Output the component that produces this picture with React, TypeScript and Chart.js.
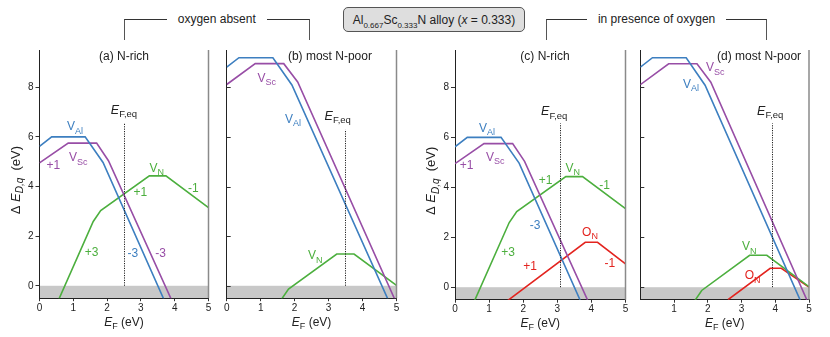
import React, { useEffect, useRef } from "react";
import { Chart, registerables } from "chart.js";

Chart.register(...registerables);

const FONT = '"Liberation Sans", Arial, Helvetica, sans-serif';
const W = 830;
const H = 337;

// ---- tick values ----
const X_TICKS = [0, 1, 2, 3, 4, 5];
const X_TICKS_D = [1, 2, 3, 4, 5];
const Y_TICKS = [0, 2, 4, 6, 8];

// ---- series (E_F in eV, formation energy in eV) ----
// N-rich
const VAL_NRICH_X = [0, 0.36, 1.35, 1.88, 3.68];
const VAL_NRICH_Y = [5.62, 6.0, 6.0, 4.97, -0.55];
const VSC_NRICH_X = [0, 0.85, 1.69, 2.04, 3.9];
const VSC_NRICH_Y = [4.95, 5.75, 5.75, 5.04, -0.55];
const VN_NRICH_X = [0.57, 1.59, 1.81, 3.25, 3.74, 5.0];
const VN_NRICH_Y = [-0.55, 2.59, 3.03, 4.43, 4.43, 3.15];
const ON_NRICH_X = [1.53, 3.82, 4.18, 5.0];
const ON_NRICH_Y = [-0.55, 1.8, 1.8, 0.93];
// most N-poor
const VAL_NPOOR_X = [0, 0.36, 1.36, 1.92, 4.75];
const VAL_NPOOR_Y = [8.81, 9.19, 9.19, 8.09, -0.55];
const VSC_NPOOR_X = [0, 0.84, 1.68, 2.09, 4.95];
const VSC_NPOOR_Y = [8.11, 8.95, 8.95, 8.21, -0.55];
const VN_NPOOR_X = [1.6, 1.82, 3.24, 3.75, 5.0];
const VN_NPOOR_Y = [-0.57, -0.13, 1.28, 1.28, 0.02];
const ON_NPOOR_X = [2.6, 3.85, 4.18, 5.0];
const ON_NPOOR_Y = [-0.5, 0.76, 0.76, 0.0];

// equilibrium Fermi level per panel (a, b, c, d)
const EF_EQ = [2.51, 3.48, 3.08, 3.91];
const EF_EQ_TOP = [6.54, 6.29, 6.56, 6.56];

// panel titles
const TITLES = ["(a) N-rich", "(b) most N-poor", "(c) N-rich", "(d) most N-poor"];
const TITLE_X = [2.5, 3.04, 2.64, 3.52];

const BLUE = "#3d7fc0";
const PURPLE = "#984ea6";
const GREEN = "#4caf3e";
const RED = "#e3241f";
const TXT = "#222";

type Lbl = { x: number; y: number; t: string; s?: string; c: string };

const LABELS_A: Lbl[] = [
  { x: 1.05, y: 6.43, t: "V", s: "Al", c: BLUE },
  { x: 1.15, y: 5.18, t: "V", s: "Sc", c: PURPLE },
  { x: 0.41, y: 4.88, t: "+1", c: PURPLE },
  { x: 3.47, y: 4.77, t: "V", s: "N", c: GREEN },
  { x: 2.98, y: 3.8, t: "+1", c: GREEN },
  { x: 4.55, y: 3.96, t: "-1", c: GREEN },
  { x: 1.54, y: 1.37, t: "+3", c: GREEN },
  { x: 2.76, y: 1.31, t: "-3", c: BLUE },
  { x: 3.58, y: 1.31, t: "-3", c: PURPLE },
];
const LABELS_B: Lbl[] = [
  { x: 1.18, y: 8.38, t: "V", s: "Sc", c: PURPLE },
  { x: 1.95, y: 6.74, t: "V", s: "Al", c: BLUE },
  { x: 2.61, y: 1.24, t: "V", s: "N", c: GREEN },
];
const LABELS_C: Lbl[] = [
  { x: 0.94, y: 6.39, t: "V", s: "Al", c: BLUE },
  { x: 1.18, y: 5.23, t: "V", s: "Sc", c: PURPLE },
  { x: 0.34, y: 4.89, t: "+1", c: PURPLE },
  { x: 3.45, y: 4.79, t: "V", s: "N", c: GREEN },
  { x: 2.66, y: 4.29, t: "+1", c: GREEN },
  { x: 4.39, y: 4.09, t: "-1", c: GREEN },
  { x: 1.56, y: 1.4, t: "+3", c: GREEN },
  { x: 2.35, y: 2.49, t: "-3", c: BLUE },
  { x: 3.96, y: 2.23, t: "O", s: "N", c: RED },
  { x: 2.2, y: 0.87, t: "+1", c: RED },
  { x: 4.54, y: 0.96, t: "-1", c: RED },
];
const LABELS_D: Lbl[] = [
  { x: 2.22, y: 8.81, t: "V", s: "Sc", c: PURPLE },
  { x: 1.5, y: 8.15, t: "V", s: "Al", c: BLUE },
  { x: 3.23, y: 1.65, t: "V", s: "N", c: GREEN },
  { x: 3.33, y: 0.48, t: "O", s: "N", c: RED },
];
const EF_LABEL_POS = [
  { x: 2.5, y: 7.1 },
  { x: 3.27, y: 6.86 },
  { x: 2.91, y: 7.05 },
  { x: 3.85, y: 7.08 },
];

type Series = { x: number[]; y: number[]; color: string };
type PanelCfg = {
  title: string;
  titleX: number;
  box: { left: number; top: number; right: number; bottom: number };
  series: Series[];
  labels: Lbl[];
  ef: number;
  efTop: number;
  efLabel: { x: number; y: number };
  xTicks: number[];
  yLabels: boolean;
};

const RICH_SERIES = (withO: boolean): Series[] => {
  const s: Series[] = [
    { x: VAL_NRICH_X, y: VAL_NRICH_Y, color: BLUE },
    { x: VSC_NRICH_X, y: VSC_NRICH_Y, color: PURPLE },
    { x: VN_NRICH_X, y: VN_NRICH_Y, color: GREEN },
  ];
  if (withO) s.push({ x: ON_NRICH_X, y: ON_NRICH_Y, color: RED });
  return s;
};
const POOR_SERIES = (withO: boolean): Series[] => {
  const s: Series[] = [
    { x: VAL_NPOOR_X, y: VAL_NPOOR_Y, color: BLUE },
    { x: VSC_NPOOR_X, y: VSC_NPOOR_Y, color: PURPLE },
    { x: VN_NPOOR_X, y: VN_NPOOR_Y, color: GREEN },
  ];
  if (withO) s.push({ x: ON_NPOOR_X, y: ON_NPOOR_Y, color: RED });
  return s;
};

const PANELS: PanelCfg[] = [
  {
    title: TITLES[0],
    titleX: TITLE_X[0],
    box: { left: 39.5, top: 50, right: 208.5, bottom: 298.2 },
    series: RICH_SERIES(false),
    labels: LABELS_A,
    ef: EF_EQ[0],
    efTop: EF_EQ_TOP[0],
    efLabel: EF_LABEL_POS[0],
    xTicks: X_TICKS,
    yLabels: true,
  },
  {
    title: TITLES[1],
    titleX: TITLE_X[1],
    box: { left: 226.7, top: 50, right: 396.5, bottom: 298.2 },
    series: POOR_SERIES(false),
    labels: LABELS_B,
    ef: EF_EQ[1],
    efTop: EF_EQ_TOP[1],
    efLabel: EF_LABEL_POS[1],
    xTicks: X_TICKS,
    yLabels: false,
  },
  {
    title: TITLES[2],
    titleX: TITLE_X[2],
    box: { left: 455, top: 50, right: 625.5, bottom: 299.7 },
    series: RICH_SERIES(true),
    labels: LABELS_C,
    ef: EF_EQ[2],
    efTop: EF_EQ_TOP[2],
    efLabel: EF_LABEL_POS[2],
    xTicks: X_TICKS,
    yLabels: true,
  },
  {
    title: TITLES[3],
    titleX: TITLE_X[3],
    box: { left: 640.3, top: 50, right: 809, bottom: 299.7 },
    series: POOR_SERIES(true),
    labels: LABELS_D,
    ef: EF_EQ[3],
    efTop: EF_EQ_TOP[3],
    efLabel: EF_LABEL_POS[3],
    xTicks: X_TICKS_D,
    yLabels: false,
  },
];

type Part = { t: string; size: number; italic?: boolean; dy?: number };

function drawRich(ctx: CanvasRenderingContext2D, parts: Part[], cx: number, cy: number, color: string) {
  ctx.save();
  ctx.fillStyle = color;
  ctx.textBaseline = "alphabetic";
  ctx.textAlign = "left";
  const fontOf = (p: Part) => `${p.italic ? "italic " : ""}${p.size}px ${FONT}`;
  let total = 0;
  const widths = parts.map((p) => {
    ctx.font = fontOf(p);
    const w = ctx.measureText(p.t).width;
    total += w;
    return w;
  });
  let x = cx - total / 2;
  const base = cy + 4.2;
  parts.forEach((p, i) => {
    ctx.font = fontOf(p);
    ctx.fillText(p.t, x, base + (p.dy || 0));
    x += widths[i];
  });
  ctx.restore();
}

function makeDeco(cfg: PanelCfg) {
  return {
    id: "panelDeco",
    beforeDraw(chart: any) {
      const { ctx, chartArea: a } = chart;
      const y = chart.scales.y;
      const y0 = y.getPixelForValue(0);
      ctx.save();
      ctx.fillStyle = "#c8c8c8";
      ctx.fillRect(a.left, y0, a.right - a.left, a.bottom - y0);
      ctx.restore();
    },
    afterDraw(chart: any) {
      const { ctx, chartArea: a } = chart;
      const xs = chart.scales.x;
      const ys = chart.scales.y;

      // right border
      ctx.save();
      ctx.strokeStyle = "#8a8a8a";
      ctx.lineWidth = 1.5;
      ctx.beginPath();
      ctx.moveTo(a.right, a.top);
      ctx.lineTo(a.right, a.bottom);
      ctx.stroke();
      ctx.restore();

      // inward ticks for panels without y labels
      if (!cfg.yLabels) {
        ctx.save();
        ctx.strokeStyle = "#333";
        ctx.lineWidth = 1;
        Y_TICKS.forEach((v) => {
          const py = Math.round(ys.getPixelForValue(v)) + 0.5;
          ctx.beginPath();
          ctx.moveTo(a.left, py);
          ctx.lineTo(a.left + 4, py);
          ctx.stroke();
        });
        ctx.restore();
      }

      // E_F,eq dotted line
      const ex = Math.round(xs.getPixelForValue(cfg.ef)) + 0.5;
      ctx.save();
      ctx.strokeStyle = "#222";
      ctx.lineWidth = 1;
      ctx.setLineDash([1.2, 1.2]);
      ctx.beginPath();
      ctx.moveTo(ex, ys.getPixelForValue(0));
      ctx.lineTo(ex, ys.getPixelForValue(cfg.efTop));
      ctx.stroke();
      ctx.restore();
      drawRich(
        ctx,
        [
          { t: "E", size: 12.5, italic: true },
          { t: "F,eq", size: 9.5, dy: 3.5 },
        ],
        xs.getPixelForValue(cfg.efLabel.x),
        ys.getPixelForValue(cfg.efLabel.y),
        TXT
      );

      // series labels
      cfg.labels.forEach((l) => {
        const parts: Part[] = [{ t: l.t, size: 12 }];
        if (l.s) parts.push({ t: l.s, size: 9, dy: 3.5 });
        drawRich(ctx, parts, xs.getPixelForValue(l.x), ys.getPixelForValue(l.y), l.c);
      });

      // panel title
      drawRich(ctx, [{ t: cfg.title, size: 12 }], xs.getPixelForValue(cfg.titleX), a.top + 6, TXT);

      // x axis title
      drawRich(
        ctx,
        [
          { t: "E", size: 12, italic: true },
          { t: "F", size: 9, dy: 3 },
          { t: " (eV)", size: 12 },
        ],
        (a.left + a.right) / 2,
        a.bottom + 23.5,
        TXT
      );

      // y axis title
      if (cfg.yLabels) {
        ctx.save();
        ctx.translate(a.left - 24, (a.top + a.bottom) / 2 + 6);
        ctx.rotate(-Math.PI / 2);
        drawRich(
          ctx,
          [
            { t: "Δ ", size: 13 },
            { t: "E", size: 13, italic: true },
            { t: "D,q", size: 10, italic: true, dy: 3.5 },
            { t: "  (eV)", size: 13 },
          ],
          0,
          0,
          TXT
        );
        ctx.restore();
      }
    },
  };
}

const YW = 30;
const XH = 20;

function Panel({ cfg }: { cfg: PanelCfg }) {
  const ref = useRef<HTMLCanvasElement>(null);
  useEffect(() => {
    const canvas = ref.current;
    if (!canvas) return;
    const tickFont = { family: FONT, size: 10 };
    const chart = new Chart(canvas, {
      type: "line",
      data: {
        datasets: cfg.series.map((s) => ({
          data: s.x.map((xv, i) => ({ x: xv, y: s.y[i] })),
          borderColor: s.color,
          backgroundColor: s.color,
          borderWidth: 1.6,
          pointRadius: 0,
          fill: false,
          tension: 0,
        })),
      },
      options: {
        animation: false,
        responsive: false,
        devicePixelRatio: 1,
        events: [],
        layout: {
          padding: {
            left: cfg.box.left - YW,
            top: cfg.box.top,
            right: W - cfg.box.right,
            bottom: H - cfg.box.bottom - XH,
          },
        },
        plugins: {
          legend: { display: false },
          tooltip: { enabled: false },
        },
        scales: {
          x: {
            type: "linear",
            min: 0,
            max: 5,
            afterFit: (s: any) => {
              s.height = XH;
            },
            afterBuildTicks: (s: any) => {
              s.ticks = cfg.xTicks.map((v) => ({ value: v }));
            },
            ticks: {
              font: tickFont,
              color: TXT,
              padding: 1,
              maxRotation: 0,
              autoSkip: false,
            },
            grid: {
              display: true,
              drawOnChartArea: false,
              drawTicks: true,
              tickLength: 3,
              color: "#333",
            },
            border: { display: true, color: "#222", width: 1 },
          },
          y: {
            type: "linear",
            min: -0.5,
            max: 9.5,
            afterFit: (s: any) => {
              s.width = YW;
            },
            afterBuildTicks: (s: any) => {
              s.ticks = Y_TICKS.map((v) => ({ value: v }));
            },
            ticks: {
              display: cfg.yLabels,
              font: tickFont,
              color: TXT,
              padding: 2,
              autoSkip: false,
            },
            grid: {
              display: true,
              drawOnChartArea: false,
              drawTicks: cfg.yLabels,
              tickLength: 4,
              color: "#333",
            },
            border: { display: true, color: "#222", width: 1 },
          },
        },
      } as any,
      plugins: [makeDeco(cfg)],
    });
    return () => chart.destroy();
  }, [cfg]);
  return (
    <canvas
      ref={ref}
      width={W}
      height={H}
      style={{ position: "absolute", left: 0, top: 0, width: W, height: H }}
    />
  );
}

function Bracket({ left, right, text }: { left: number; right: number; text: string }) {
  return (
    <>
      <div
        style={{
          position: "absolute",
          left,
          top: 19,
          width: right - left,
          height: 21,
          boxSizing: "border-box",
          borderTop: "1px solid #333",
          borderLeft: "1px solid #555",
          borderRight: "1px solid #555",
        }}
      />
      <div
        style={{
          position: "absolute",
          left,
          top: 11,
          width: right - left,
          textAlign: "center",
          fontSize: 12,
          lineHeight: "16px",
          color: TXT,
        }}
      >
        <span style={{ background: "#fff", padding: "0 11px" }}>{text}</span>
      </div>
    </>
  );
}

const sub: React.CSSProperties = { fontSize: 8, position: "relative", top: 4 };

export default function App() {
  return (
    <div
      style={{
        position: "absolute",
        left: 0,
        top: 0,
        width: W,
        height: H,
        background: "#fff",
        overflow: "hidden",
        fontFamily: FONT,
      }}
    >
      {PANELS.map((p, i) => (
        <Panel key={i} cfg={p} />
      ))}
      <Bracket left={124} right={309.5} text="oxygen absent" />
      <Bracket left={545.7} right={767.5} text="in presence of oxygen" />
      <div
        style={{
          position: "absolute",
          left: 342.7,
          top: 7.3,
          width: 182.5,
          height: 25,
          boxSizing: "border-box",
          border: "1px solid #555",
          borderRadius: 5,
          background: "#dedede",
          display: "flex",
          alignItems: "center",
          justifyContent: "center",
          fontSize: 12,
          color: TXT,
          whiteSpace: "nowrap",
        }}
      >
        <span>
          Al<span style={sub}>0.667</span>Sc<span style={sub}>0.333</span>N alloy (<i>x</i> = 0.333)
        </span>
      </div>
    </div>
  );
}
